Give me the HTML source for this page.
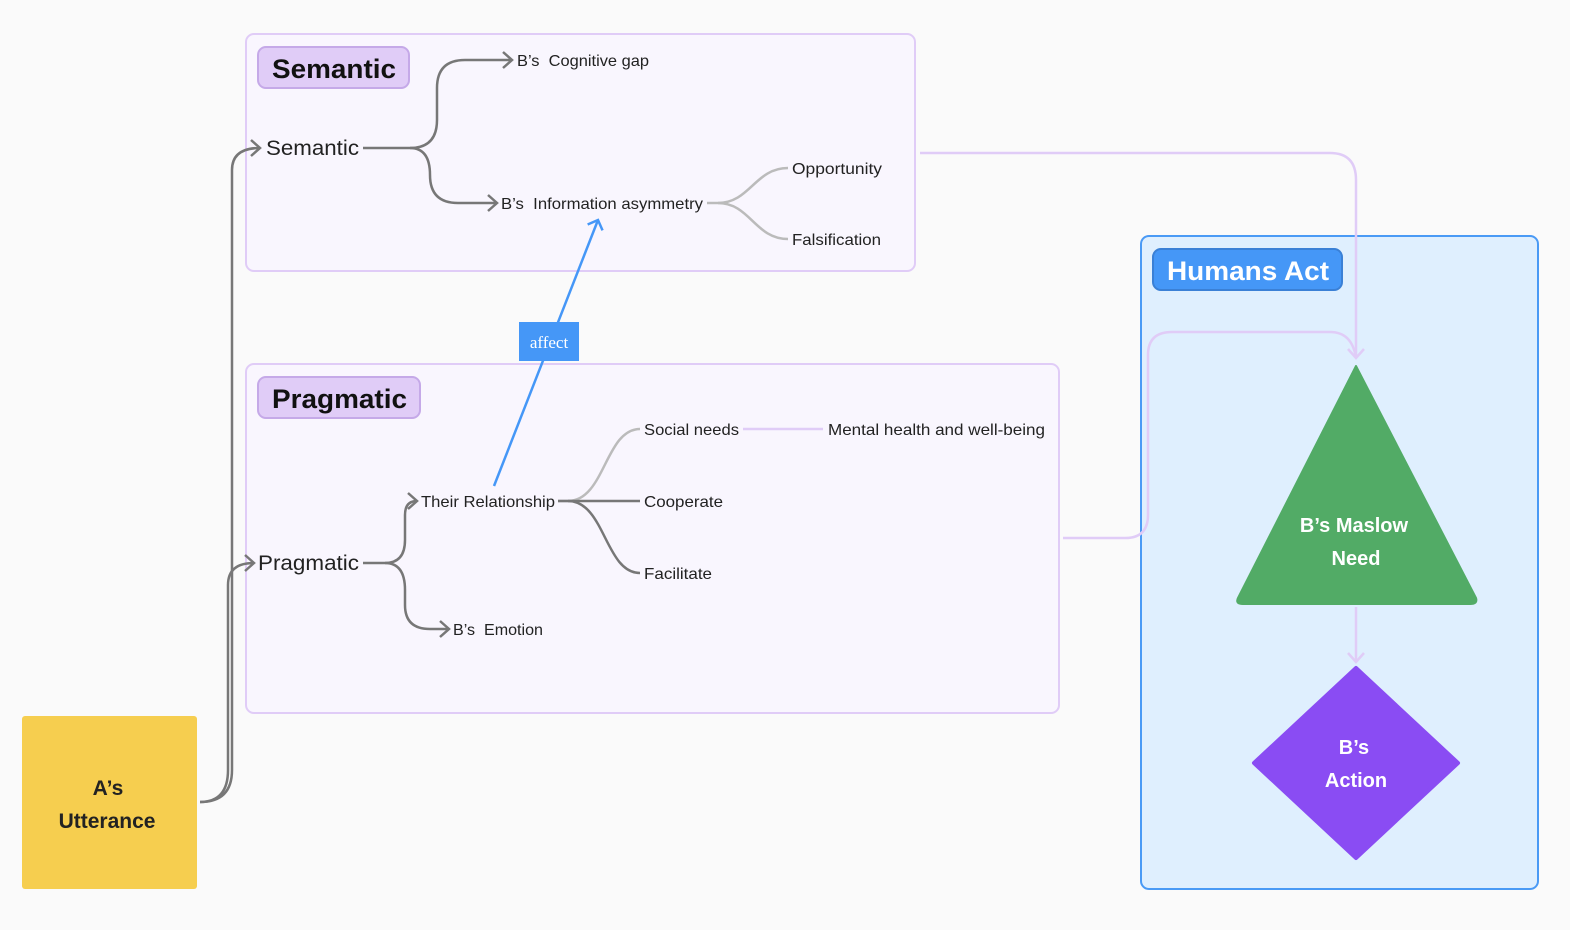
<!DOCTYPE html>
<html><head><meta charset="utf-8"><style>
html,body{margin:0;padding:0;background:#fafafa;}
svg{display:block;}
text{font-family:"Liberation Sans",sans-serif;white-space:pre;}
</style></head><body>
<svg width="1570" height="930" viewBox="0 0 1570 930" xmlns="http://www.w3.org/2000/svg">
<defs>
<marker id="ag" markerWidth="14" markerHeight="20" refX="12" refY="10" orient="auto" markerUnits="userSpaceOnUse"><path d="M3,2 L12,10 L3,18" fill="none" stroke="#777" stroke-width="2.5"/></marker>
<marker id="ab" markerWidth="20" markerHeight="20" refX="10" refY="10" orient="auto" markerUnits="userSpaceOnUse"><path d="M2,2 L10,10 L2,18" fill="none" stroke="#4597f7" stroke-width="2.5"/></marker>
<marker id="al" markerWidth="16" markerHeight="20" refX="12" refY="10" orient="auto" markerUnits="userSpaceOnUse"><path d="M3,2 L12,10 L3,18" fill="none" stroke="#e0ccf7" stroke-width="2.5"/></marker>
</defs>
<rect width="1570" height="930" fill="#fafafa"/>
<rect x="246" y="34" width="669" height="237" rx="8" fill="#f9f6fe" stroke="#e0ccf7" stroke-width="2"/>
<rect x="246" y="364" width="813" height="349" rx="8" fill="#f9f6fe" stroke="#e0ccf7" stroke-width="2"/>
<rect x="1141" y="236" width="397" height="653" rx="8" fill="#dfeffe" stroke="#4a9af5" stroke-width="2"/>
<rect x="258" y="47" width="151" height="41" rx="8" fill="#e0ccf7" stroke="#c5a9e8" stroke-width="2"/>
<text x="272" y="78" font-size="27" font-weight="bold" fill="#111" textLength="124" lengthAdjust="spacingAndGlyphs">Semantic</text>
<rect x="258" y="377" width="162" height="41" rx="8" fill="#e0ccf7" stroke="#c5a9e8" stroke-width="2"/>
<text x="272" y="408" font-size="27" font-weight="bold" fill="#111" textLength="135" lengthAdjust="spacingAndGlyphs">Pragmatic</text>
<rect x="1153" y="249" width="189" height="41" rx="8" fill="#4597f7" stroke="#3a80d6" stroke-width="2"/>
<text x="1167" y="280" font-size="27" font-weight="bold" fill="#fff" textLength="162" lengthAdjust="spacingAndGlyphs">Humans Act</text>
<rect x="22" y="716" width="175" height="173" rx="3" fill="#f6ce4f"/>
<text x="108" y="795" font-size="21" font-weight="bold" text-anchor="middle" fill="#222">A’s</text>
<text x="107" y="828" font-size="21" font-weight="bold" text-anchor="middle" fill="#222">Utterance</text>
<path d="M200,802 Q232,802 232,770 L232,170 Q232,148 260,148" fill="none" stroke="#777" stroke-width="2.5" marker-end="url(#ag)"/>
<path d="M200,802 Q228,802 228,770 L228,585 Q228,563 254,563" fill="none" stroke="#777" stroke-width="2.5" marker-end="url(#ag)"/>
<text x="266" y="155" font-size="21" fill="#222" textLength="93" lengthAdjust="spacingAndGlyphs">Semantic</text>
<path d="M363,148 L410,148 Q437,148 437,120 L437,88 Q437,60 465,60 L512,60" fill="none" stroke="#777" stroke-width="2.5" marker-end="url(#ag)"/>
<path d="M410,148 Q430,148 430,175 Q430,203 458,203 L497,203" fill="none" stroke="#777" stroke-width="2.5" marker-end="url(#ag)"/>
<text x="517" y="66" font-size="16" fill="#222" textLength="132" lengthAdjust="spacingAndGlyphs">B’s  Cognitive gap</text>
<text x="501" y="209" font-size="16" fill="#222" textLength="202" lengthAdjust="spacingAndGlyphs">B’s  Information asymmetry</text>
<path d="M707,203 L718,203 C750,203 755,168 788,168" fill="none" stroke="#bbb" stroke-width="2.5"/>
<path d="M718,203 C750,203 755,239 788,239" fill="none" stroke="#bbb" stroke-width="2.5"/>
<text x="792" y="174" font-size="16" fill="#222" textLength="90" lengthAdjust="spacingAndGlyphs">Opportunity</text>
<text x="792" y="245" font-size="16" fill="#222" textLength="89" lengthAdjust="spacingAndGlyphs">Falsification</text>
<text x="258" y="570" font-size="21" fill="#222" textLength="101" lengthAdjust="spacingAndGlyphs">Pragmatic</text>
<path d="M363,563 L385,563 Q405,563 405,540 L405,515 Q405,501 417,501" fill="none" stroke="#777" stroke-width="2.5" marker-end="url(#ag)"/>
<path d="M385,563 Q405,563 405,590 L405,605 Q405,629 430,629 L449,629" fill="none" stroke="#777" stroke-width="2.5" marker-end="url(#ag)"/>
<text x="421" y="507" font-size="16" fill="#222" textLength="134" lengthAdjust="spacingAndGlyphs">Their Relationship</text>
<text x="453" y="635" font-size="16" fill="#222" textLength="90" lengthAdjust="spacingAndGlyphs">B’s  Emotion</text>
<path d="M558,501 L568,501 C605,501 605,429 640,429" fill="none" stroke="#bbb" stroke-width="2.5"/>
<path d="M558,501 L640,501" fill="none" stroke="#777" stroke-width="2.5"/>
<path d="M568,501 C605,501 605,573 640,573" fill="none" stroke="#777" stroke-width="2.5"/>
<text x="644" y="435" font-size="16" fill="#222" textLength="95" lengthAdjust="spacingAndGlyphs">Social needs</text>
<text x="644" y="507" font-size="16" fill="#222" textLength="79" lengthAdjust="spacingAndGlyphs">Cooperate</text>
<text x="644" y="579" font-size="16" fill="#222" textLength="68" lengthAdjust="spacingAndGlyphs">Facilitate</text>
<line x1="743" y1="429" x2="823" y2="429" stroke="#e0ccf7" stroke-width="2.5"/>
<text x="828" y="435" font-size="16" fill="#222" textLength="217" lengthAdjust="spacingAndGlyphs">Mental health and well-being</text>
<line x1="494" y1="486" x2="598" y2="220" stroke="#4597f7" stroke-width="2.5" marker-end="url(#ab)"/>
<rect x="519" y="322" width="60" height="39" fill="#4597f7"/>
<text x="549" y="348" font-size="17" text-anchor="middle" fill="#fff" style="font-family:'Liberation Serif',serif">affect</text>
<path d="M920,153 L1330,153 Q1356,153 1356,180 L1356,358" fill="none" stroke="#e0ccf7" stroke-width="2.5" marker-end="url(#al)"/>
<path d="M1063,538 L1125,538 Q1148,538 1148,515 L1148,355 Q1148,332 1172,332 L1330,332 Q1352,332 1356,358" fill="none" stroke="#e0ccf7" stroke-width="2.5"/>
<path d="M1356,366 L1476,598 Q1478,604 1470,604 L1243,604 Q1235,604 1238,598 Z" fill="#52ab66" stroke="#52ab66" stroke-width="2" stroke-linejoin="round"/>
<text x="1354" y="532" font-size="20" font-weight="bold" text-anchor="middle" fill="#fff">B’s Maslow</text>
<text x="1356" y="565" font-size="20" font-weight="bold" text-anchor="middle" fill="#fff">Need</text>
<line x1="1356" y1="607" x2="1356" y2="662" stroke="#e0ccf7" stroke-width="2.5" marker-end="url(#al)"/>
<path d="M1356,668 L1458,763 L1356,858 L1254,763 Z" fill="#8a4cf3" stroke="#8a4cf3" stroke-width="4" stroke-linejoin="round"/>
<text x="1354" y="754" font-size="20" font-weight="bold" text-anchor="middle" fill="#fff">B’s</text>
<text x="1356" y="787" font-size="20" font-weight="bold" text-anchor="middle" fill="#fff">Action</text>
</svg>
</body></html>
